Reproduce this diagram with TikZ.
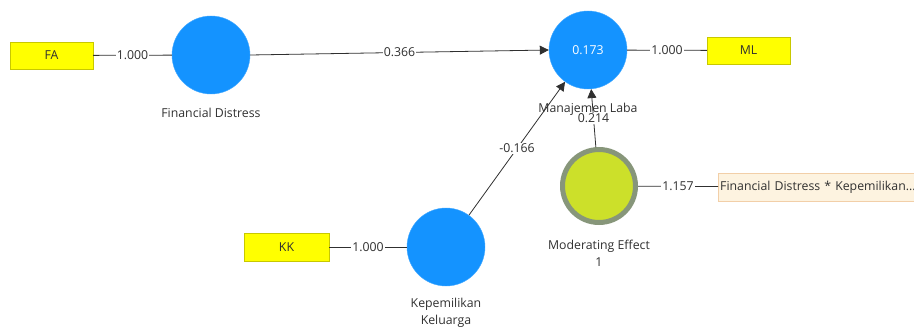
\documentclass[tikz,border=0pt]{standalone}
\usepackage{fontspec}
\setmainfont{Open Sans}
\usetikzlibrary{arrows.meta}
\definecolor{lvblue}{HTML}{1493FF}
\definecolor{indyel}{HTML}{FFFF00}
\definecolor{indbord}{HTML}{C8C800}
\definecolor{modfill}{HTML}{CCE02A}
\definecolor{modbord}{HTML}{87967A}
\definecolor{creamfill}{HTML}{FDF3E0}
\definecolor{creambord}{HTML}{F2CFA8}
\definecolor{txt}{HTML}{303030}
\begin{document}
\begin{tikzpicture}[x=1pt,y=-1pt,
  every node/.style={font=\fontsize{12.3}{14}\selectfont, text=txt},
  latent/.style={circle, fill=lvblue, draw=lvblue!80!white, minimum size=78pt, inner sep=0pt},
  indbox/.style={rectangle, fill=indyel, draw=indbord, minimum width=83pt, minimum height=27pt, inner sep=0pt},
  modc/.style={circle, fill=modfill, draw=modbord, line width=5pt, minimum size=73pt, inner sep=0pt},
  lnk/.style={draw=txt, line width=0.8pt},
  arr/.style={lnk, -{Triangle[length=9pt,width=9pt]}},
  elab/.style={fill=white, inner sep=1pt}]
\useasboundingbox (0,0) rectangle (914,329);

\node[indbox] (fa) at (51.5,55.5) {FA};
\node[latent] (fd) at (211,55) {};
\node at (211,113) {Financial Distress};

\node[latent] (ml) at (588,50) {\textcolor{white}{0.173}};
\node[indbox] (mlb) at (748.5,50.5) {ML};

\node[indbox, minimum width=85pt, minimum height=28pt] (kk) at (286.5,247) {KK};
\node[latent] (kel) at (446,247) {};
\node[align=center, font=\fontsize{12.3}{17}\selectfont] at (446,313) {Kepemilikan\\Keluarga};

\node[modc] (mod) at (599,186) {};
\node[align=center, font=\fontsize{12.3}{17}\selectfont] at (599,253) {Moderating Effect\\1};

\node[rectangle, fill=creamfill, draw=creambord, minimum height=28pt, minimum width=215pt, inner sep=2pt, anchor=west, text width=211pt, align=left] (int) at (718,187) {Financial Distress * Kepemilikan...};

\draw[lnk] (fa) -- node[elab] {1.000} (fd);
\draw[lnk] (ml) -- node[elab] {1.000} (mlb);
\draw[lnk] (kk) -- node[elab] {1.000} (kel);
\draw[lnk] (mod) -- node[elab] {1.157} (int);

\draw[arr] (fd.east) -- node[elab, pos=0.5] {0.366} (ml.west);
\draw[arr] (kel) -- node[elab, pos=0.5] {-0.166} (ml);
\draw[arr] (mod) -- node[elab, pos=0.5] {0.214} (ml);
\node (mllab) at (588,109) {Manajemen Laba};
\end{tikzpicture}
\end{document}
